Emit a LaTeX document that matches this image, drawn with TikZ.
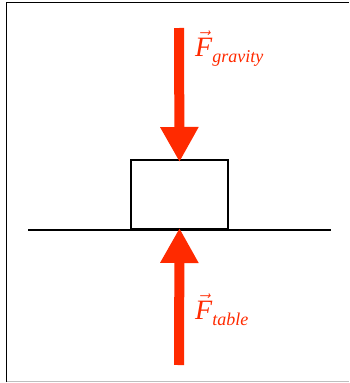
\documentclass[tikz,border=0pt]{standalone}
\usepackage{amsmath}
\usepackage{fontspec}
\setmainfont{Liberation Serif}
\usetikzlibrary{arrows.meta}
\definecolor{forcered}{RGB}{255,42,0}
\tikzset{
  force/.style={forcered, line width=10pt, -{Triangle[width=36pt,length=35pt]}},
  solid line/.style={black, line width=2pt},
  flabel/.style={forcered, anchor=base west, inner sep=0pt},
}
\newcommand{\forcelabel}[1]{{\fontsize{28}{30}\selectfont$\vec{\text{\itshape F}}$\raisebox{-6pt}{\fontsize{18}{20}\selectfont\itshape #1}}}
\begin{document}
\begin{tikzpicture}[x=1pt,y=-1pt]
\useasboundingbox (0,0) rectangle (349,383);
\fill[white] (0,0) rectangle (349,383);
% frame
\draw[black, line width=1.5pt] (6.5,382) -- (6.5,2.5) -- (349,2.5);
\draw[black!25, line width=1pt] (6.5,381.5) -- (349,381.5);
% ground and block
\coordinate (gl) at (28,230);
\coordinate (gr) at (331,230);
\node[draw, solid line, minimum width=97pt, minimum height=69pt, inner sep=0pt, anchor=south west] (block) at (130,230) {};
\draw[solid line] (gl) -- (gr);
% forces
\coordinate (gtop) at (179,28);
\coordinate (tbot) at (179,365);
\draw[force] (gtop) -- ([yshift=-3pt]block.north);
\draw[force] (tbot) -- ([yshift=2pt]block.south);
% labels
\node[flabel] (lg) at (195,56) {\forcelabel{gravity}};
\node[flabel] (lt) at (195,319) {\forcelabel{table}};
\end{tikzpicture}
\end{document}
